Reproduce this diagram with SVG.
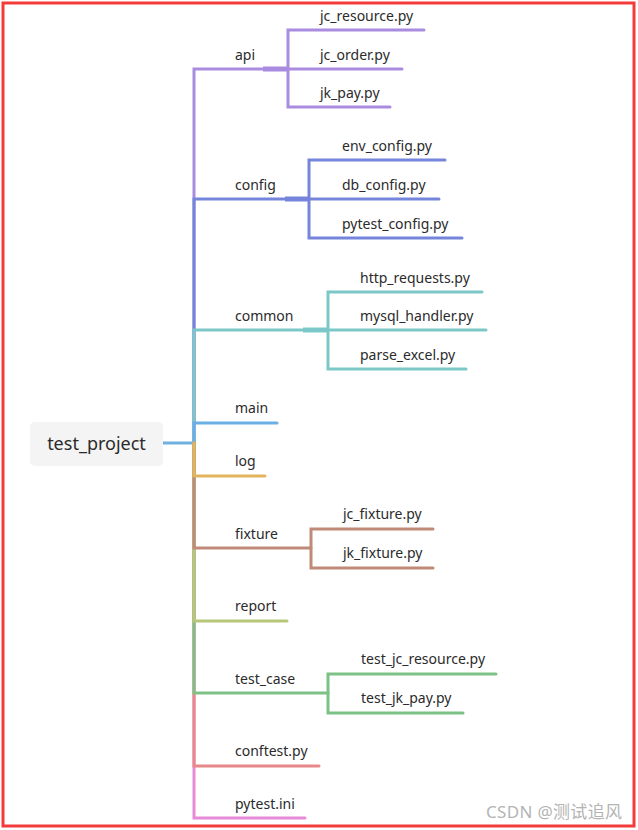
<svg xmlns="http://www.w3.org/2000/svg" width="638" height="830" viewBox="0 0 638 830">
<style>
.t{font-family:"Noto Sans","Liberation Sans",sans-serif;font-size:14px;fill:#2b2b2b}
.l{fill:none;stroke-width:3;stroke-linecap:round;stroke-linejoin:miter}
.s{fill:none;stroke-width:5;stroke-linecap:butt}
</style>
<rect x="0" y="0" width="638" height="830" fill="#ffffff"/>
<rect x="3" y="3" width="631" height="823" fill="none" stroke="#f43b3b" stroke-width="3"/>
<g id="connectors">
<path class="l" stroke="#6fb0dc" d="M163 443H194"/>
<path class="l" stroke="#a98be0" d="M194 443V69H288"/>
<path class="l" stroke="#7585db" d="M194 443V199H309"/>
<path class="l" stroke="#7cc8c8" d="M194 443V330H328"/>
<path class="l" stroke="#6ab0e4" d="M194 443V423H277"/>
<path class="l" stroke="#e88ad8" d="M194 443V818H305"/>
<path class="l" stroke="#e88888" d="M194 443V766H319"/>
<path class="l" stroke="#7cc286" d="M194 443V693H328"/>
<path class="l" stroke="#b6c878" d="M194 443V621H287"/>
<path class="l" stroke="#c08a78" d="M194 443V548H311"/>
<path class="l" stroke="#e2b55c" d="M194 443V476H265"/>
<path class="s" stroke="#a98be0" d="M263 69H288"/>
<path class="s" stroke="#7585db" d="M285 199H309"/>
<path class="s" stroke="#7cc8c8" d="M303 330H328"/>
<path class="l" stroke="#a98be0" d="M424 30H288V107H390M288 69H402"/>
<path class="l" stroke="#7585db" d="M445 160H309V238H462M309 199H439"/>
<path class="l" stroke="#7cc8c8" d="M482 292H328V369H466M328 330H486"/>
<path class="l" stroke="#c08a78" d="M433 529H311V568H433"/>
<path class="l" stroke="#7cc286" d="M496 674H328V713H463"/>
</g>
<g id="root">
<rect x="30" y="422" width="133" height="44" rx="5" fill="#f4f4f4"/>
<text x="96.5" y="450" text-anchor="middle" style="font-family:'Noto Sans','Liberation Sans',sans-serif;font-size:18px;fill:#2b2b2b">test_project</text>
</g>
<g id="api"><text class="t" x="235" y="60">api</text></g>
<g id="jc_resource"><text class="t" x="320" y="21">jc_resource.py</text></g>
<g id="jc_order"><text class="t" x="320" y="60">jc_order.py</text></g>
<g id="jk_pay"><text class="t" x="320" y="98">jk_pay.py</text></g>
<g id="config"><text class="t" x="235" y="190">config</text></g>
<g id="env_config"><text class="t" x="342" y="151">env_config.py</text></g>
<g id="db_config"><text class="t" x="342" y="190">db_config.py</text></g>
<g id="pytest_config"><text class="t" x="342" y="229">pytest_config.py</text></g>
<g id="common"><text class="t" x="235" y="321">common</text></g>
<g id="http_requests"><text class="t" x="360" y="283">http_requests.py</text></g>
<g id="mysql_handler"><text class="t" x="360" y="321">mysql_handler.py</text></g>
<g id="parse_excel"><text class="t" x="360" y="360">parse_excel.py</text></g>
<g id="main"><text class="t" x="235" y="413">main</text></g>
<g id="log"><text class="t" x="235" y="466">log</text></g>
<g id="fixture"><text class="t" x="235" y="539">fixture</text></g>
<g id="jc_fixture"><text class="t" x="343" y="519">jc_fixture.py</text></g>
<g id="jk_fixture"><text class="t" x="343" y="558">jk_fixture.py</text></g>
<g id="report"><text class="t" x="235" y="611">report</text></g>
<g id="test_case"><text class="t" x="235" y="684">test_case</text></g>
<g id="test_jc_resource"><text class="t" x="361" y="664">test_jc_resource.py</text></g>
<g id="test_jk_pay"><text class="t" x="361" y="703">test_jk_pay.py</text></g>
<g id="conftest"><text class="t" x="235" y="756">conftest.py</text></g>
<g id="pytest_ini"><text class="t" x="235" y="809">pytest.ini</text></g>
<text x="486" y="818" textLength="136" style="font-family:'Noto Sans','Noto Sans CJK SC',sans-serif;font-size:17px;fill:#b4b4b4">CSDN @测试追风</text>
</svg>
